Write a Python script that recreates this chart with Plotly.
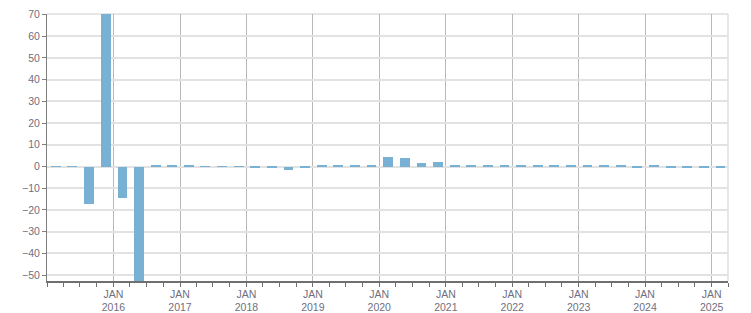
import pandas as pd
import plotly.graph_objects as go

quarters = ["2015Q1","2015Q2","2015Q3","2015Q4","2016Q1","2016Q2","2016Q3","2016Q4",
            "2017Q1","2017Q2","2017Q3","2017Q4","2018Q1","2018Q2","2018Q3","2018Q4",
            "2019Q1","2019Q2","2019Q3","2019Q4","2020Q1","2020Q2","2020Q3","2020Q4",
            "2021Q1","2021Q2","2021Q3","2021Q4","2022Q1","2022Q2","2022Q3","2022Q4",
            "2023Q1","2023Q2","2023Q3","2023Q4","2024Q1","2024Q2","2024Q3","2024Q4",
            "2025Q1"]
values = [-0.2, -0.2, -17.2, 85.0, -14.5, -60.0, 0.4, 0.4,
          0.4, -0.2, -0.2, -0.2, -0.7, -0.7, -1.4, -0.3,
          0.4, 0.9, 0.4, 0.4, 4.6, 3.7, 1.8, 2.3,
          0.9, 0.4, 0.4, 0.4, 0.4, 0.9, 0.9, 0.4,
          0.9, 0.4, 0.4, -0.3, 0.4, -0.3, -0.3, -0.3,
          -0.3]
tick_years = list(range(2016, 2026))
tick_vals = [f"{y}-01-01" for y in tick_years]
tick_text = [f"JAN<br>{y}" for y in tick_years]

periods = pd.PeriodIndex(quarters, freq="Q")
starts = periods.start_time
ends = periods.end_time
mids = starts + (ends - starts) / 2 + pd.Timedelta(days=4)

DAY_MS = 86400000
fig = go.Figure(go.Bar(
    x=mids, y=values,
    width=[54 * DAY_MS] * len(values),
    marker=dict(color="#78b1d3", line=dict(width=0)),
))

font = dict(family="Liberation Sans, Arial, sans-serif", size=10.5, color="#6f6f7f")
fig.update_layout(
    width=751, height=313,
    margin=dict(l=47, r=23, t=14, b=32),
    plot_bgcolor="white", paper_bgcolor="white",
    showlegend=False, bargap=0,
    font=font,
    shapes=[
        dict(type="line", xref="paper", yref="paper", x0=0, x1=1, y0=1, y1=1,
             line=dict(color="#dedede", width=1.5), layer="below"),
        dict(type="line", xref="paper", yref="paper", x0=1, x1=1, y0=0, y1=1,
             line=dict(color="#dedede", width=1.5), layer="below"),
    ],
)
fig.update_xaxes(
    type="date", automargin=False,
    range=["2015-01-01", "2025-04-01"],
    tickmode="array", tickvals=tick_vals, ticktext=tick_text,
    showgrid=True, gridcolor="#b8b8b8", gridwidth=1,
    ticks="outside", ticklen=2, tickcolor="#707070", tickwidth=1,
    minor=dict(dtick="M3", tick0="2015-01-01", ticks="outside", ticklen=4,
               tickcolor="#707070", showgrid=False),
    showline=True, linecolor="#707070", linewidth=2,
    tickfont=font,
)
fig.update_yaxes(
    range=[-52.7, 70.2], dtick=10, tick0=0, automargin=False,
    showgrid=True, gridcolor="#e2e2e2", gridwidth=1.5,
    zeroline=False,
    ticks="outside", ticklen=4, tickcolor="#808080",
    showline=True, linecolor="#808080", linewidth=1,
    tickfont=font,
)
fig.write_html("out.html")
